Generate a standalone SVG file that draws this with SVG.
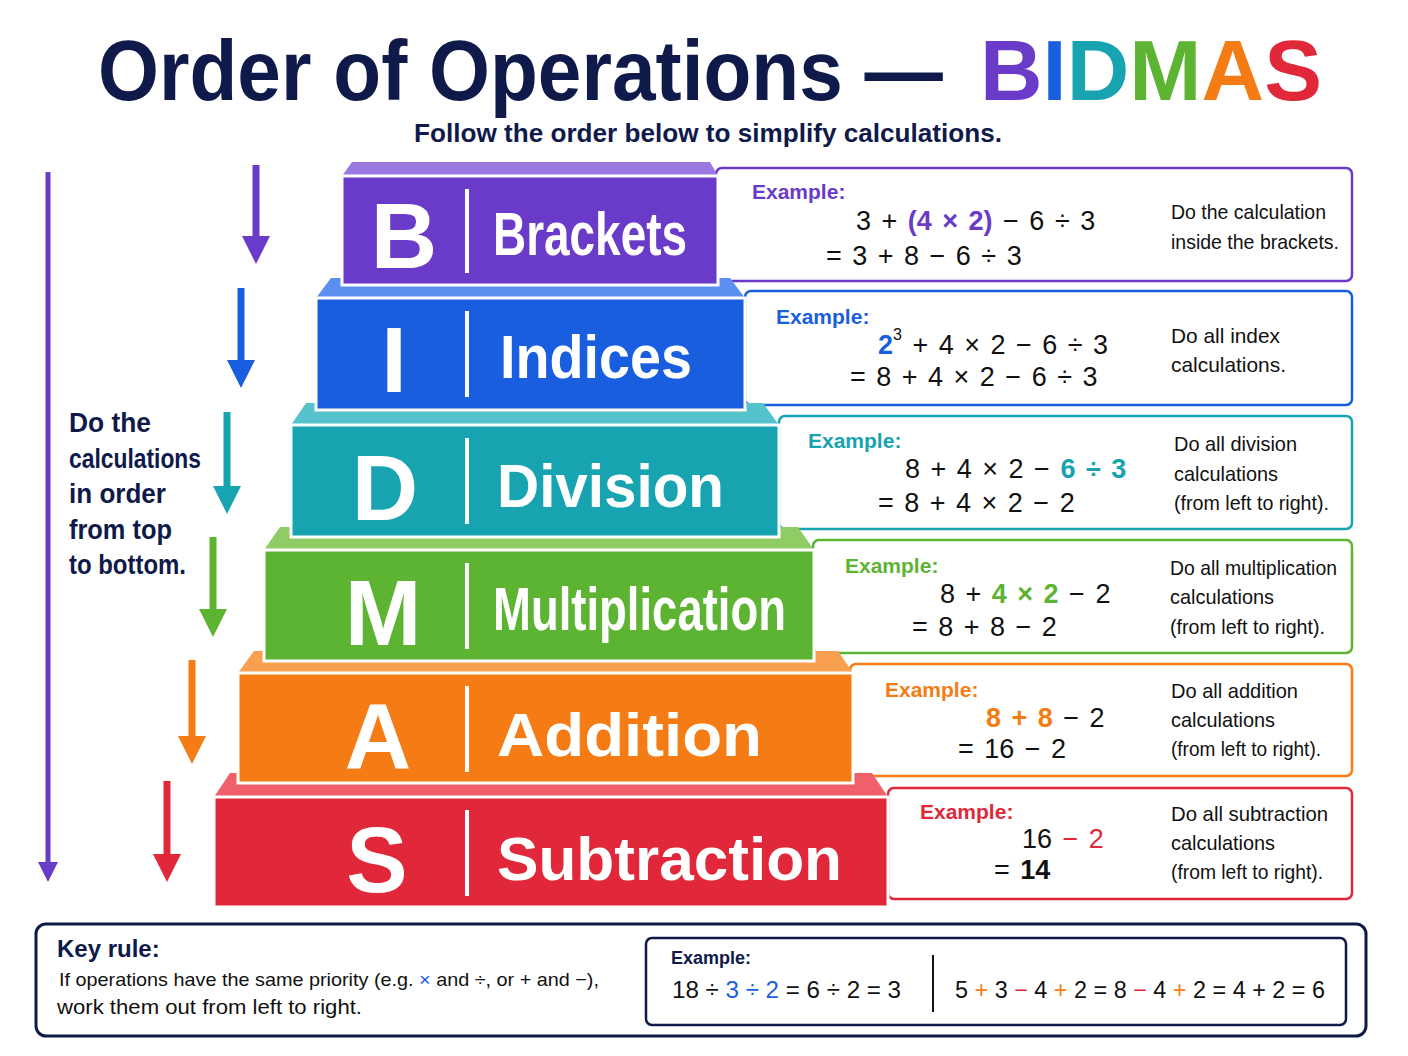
<svg xmlns="http://www.w3.org/2000/svg" width="1408" height="1056" viewBox="0 0 1408 1056">
<style>
text{font-family:"Liberation Sans",Arial,sans-serif}
.let{font-size:92px;font-weight:bold;fill:#fff;text-anchor:middle}
.word{font-size:62px;font-weight:bold;fill:#fff}
.ex{font-size:21px;font-weight:bold}
.m{font-size:27px;fill:#111;word-spacing:3px}
.d{font-size:21px;fill:#111}
.box{fill:#fff;stroke-width:2.5}
.div{stroke:#fff;stroke-width:4}
</style>
<defs>
<marker id="ah" viewBox="0 0 10 10" refX="5" refY="5" markerWidth="4" markerHeight="4" orient="auto"><path d="M0,0L10,5L0,10z" fill="context-stroke"/></marker>
</defs>
<rect width="1408" height="1056" fill="#fff"/>
<text x="98" y="100" font-size="86" font-weight="bold" fill="#0f1a4a" textLength="845" lengthAdjust="spacingAndGlyphs">Order of Operations —</text>
<text x="980" y="100" font-size="86" font-weight="bold" textLength="342" lengthAdjust="spacingAndGlyphs"><tspan fill="#6a3bc8">B</tspan><tspan fill="#1a5ee0">I</tspan><tspan fill="#17a3b0">D</tspan><tspan fill="#5db332">M</tspan><tspan fill="#f57c14">A</tspan><tspan fill="#e0283a">S</tspan></text>
<text x="708" y="142" font-size="25" font-weight="bold" fill="#0f1a4a" text-anchor="middle" textLength="588" lengthAdjust="spacingAndGlyphs">Follow the order below to simplify calculations.</text>

<g id="connectors" stroke-width="7" fill="none">
<line x1="48" y1="172" x2="48" y2="872" stroke="#6a3bc8" stroke-width="5" marker-end="url(#ah)"/>
<line x1="256" y1="165" x2="256" y2="250" stroke="#6a3bc8" marker-end="url(#ah)"/>
<line x1="241" y1="288" x2="241" y2="374" stroke="#1a5ee0" marker-end="url(#ah)"/>
<line x1="227" y1="412" x2="227" y2="500" stroke="#17a3b0" marker-end="url(#ah)"/>
<line x1="213" y1="537" x2="213" y2="623" stroke="#5db332" marker-end="url(#ah)"/>
<line x1="192" y1="660" x2="192" y2="750" stroke="#f57c14" marker-end="url(#ah)"/>
<line x1="167" y1="781" x2="167" y2="868" stroke="#e0283a" marker-end="url(#ah)"/>
</g>
<g font-size="27" font-weight="bold" fill="#0f1a4a">
<text x="69" y="432" textLength="82" lengthAdjust="spacingAndGlyphs">Do the</text>
<text x="69" y="468" textLength="132" lengthAdjust="spacingAndGlyphs">calculations</text>
<text x="69" y="503" textLength="97" lengthAdjust="spacingAndGlyphs">in order</text>
<text x="69" y="539" textLength="103" lengthAdjust="spacingAndGlyphs">from top</text>
<text x="69" y="574" textLength="117" lengthAdjust="spacingAndGlyphs">to bottom.</text>
</g>

<g id="exB"><rect class="box" x="716" y="168" width="636" height="113" rx="6" stroke="#6a3bc8"/>
<text class="ex" x="752" y="199" fill="#6a3bc8">Example:</text>
<text class="m" x="856" y="230">3 + <tspan fill="#6a3bc8" font-weight="bold">(4 × 2)</tspan> − 6 ÷ 3</text>
<text class="m" x="826" y="265">= 3 + 8 − 6 ÷ 3</text>
<text class="d" x="1171" y="219" textLength="155" lengthAdjust="spacingAndGlyphs">Do the calculation</text><text class="d" x="1171" y="249" textLength="168" lengthAdjust="spacingAndGlyphs">inside the brackets.</text></g>

<g id="exI"><rect class="box" x="745" y="291" width="607" height="114" rx="6" stroke="#1a5ee0"/>
<text class="ex" x="776" y="324" fill="#1a5ee0">Example:</text>
<text class="m" x="878" y="354"><tspan fill="#1a5ee0" font-weight="bold">2</tspan><tspan font-size="16" dy="-14">3</tspan><tspan dy="14"> + 4 × 2 − 6 ÷ 3</tspan></text>
<text class="m" x="850" y="386">= 8 + 4 × 2 − 6 ÷ 3</text>
<text class="d" x="1171" y="343" textLength="109" lengthAdjust="spacingAndGlyphs">Do all index</text><text class="d" x="1171" y="372" textLength="115" lengthAdjust="spacingAndGlyphs">calculations.</text></g>

<g id="exD"><rect class="box" x="779" y="416" width="573" height="113" rx="6" stroke="#17a3b0"/>
<text class="ex" x="808" y="448" fill="#17a3b0">Example:</text>
<text class="m" x="905" y="478">8 + 4 × 2 − <tspan fill="#17a3b0" font-weight="bold">6 ÷ 3</tspan></text>
<text class="m" x="878" y="512">= 8 + 4 × 2 − 2</text>
<text class="d" x="1174" y="451" textLength="123" lengthAdjust="spacingAndGlyphs">Do all division</text><text class="d" x="1174" y="481" textLength="104" lengthAdjust="spacingAndGlyphs">calculations</text><text class="d" x="1174" y="510" textLength="155" lengthAdjust="spacingAndGlyphs">(from left to right).</text></g>

<g id="exM"><rect class="box" x="813" y="540" width="539" height="113" rx="6" stroke="#5db332"/>
<text class="ex" x="845" y="573" fill="#5db332">Example:</text>
<text class="m" x="940" y="603">8 + <tspan fill="#5db332" font-weight="bold">4 × 2</tspan> − 2</text>
<text class="m" x="912" y="636">= 8 + 8 − 2</text>
<text class="d" x="1170" y="575" textLength="167" lengthAdjust="spacingAndGlyphs">Do all multiplication</text><text class="d" x="1170" y="604" textLength="104" lengthAdjust="spacingAndGlyphs">calculations</text><text class="d" x="1170" y="634" textLength="155" lengthAdjust="spacingAndGlyphs">(from left to right).</text></g>

<g id="exA"><rect class="box" x="850" y="664" width="502" height="112" rx="6" stroke="#f57c14"/>
<text class="ex" x="885" y="697" fill="#f57c14">Example:</text>
<text class="m" x="986" y="727"><tspan fill="#f57c14" font-weight="bold">8 + 8</tspan> − 2</text>
<text class="m" x="958" y="758">= 16 − 2</text>
<text class="d" x="1171" y="698" textLength="127" lengthAdjust="spacingAndGlyphs">Do all addition</text><text class="d" x="1171" y="727" textLength="104" lengthAdjust="spacingAndGlyphs">calculations</text><text class="d" x="1171" y="756" textLength="150" lengthAdjust="spacingAndGlyphs">(from left to right).</text></g>

<g id="exS"><rect class="box" x="888" y="788" width="464" height="111" rx="6" stroke="#e0283a"/>
<text class="ex" x="920" y="819" fill="#e0283a">Example:</text>
<text class="m" x="1022" y="848">16 <tspan fill="#e0283a">− 2</tspan></text>
<text class="m" x="994" y="879">= <tspan font-weight="bold">14</tspan></text>
<text class="d" x="1171" y="821" textLength="157" lengthAdjust="spacingAndGlyphs">Do all subtraction</text><text class="d" x="1171" y="850" textLength="104" lengthAdjust="spacingAndGlyphs">calculations</text><text class="d" x="1171" y="879" textLength="152" lengthAdjust="spacingAndGlyphs">(from left to right).</text></g>

<g id="S"><polygon points="230,773 872,773 888,797 214,797" fill="#f0606a"/><rect x="214" y="797" width="674" height="110" fill="#e0283a" stroke="#fff" stroke-width="3"/>
<text class="let" x="377" y="892">S</text><line class="div" x1="467" y1="810" x2="467" y2="896"/><text class="word" x="497" y="880" textLength="345" lengthAdjust="spacingAndGlyphs">Subtraction</text></g>
<g id="A"><polygon points="254,651 838,651 853,673 238,673" fill="#f9a050"/><rect x="238" y="673" width="615" height="110" fill="#f57c14" stroke="#fff" stroke-width="3"/>
<text class="let" x="378" y="768">A</text><line class="div" x1="467" y1="686" x2="467" y2="772"/><text class="word" x="497" y="756" textLength="265" lengthAdjust="spacingAndGlyphs">Addition</text></g>
<g id="M"><polygon points="280,527 798,527 814,550 264,550" fill="#8fcc63"/><rect x="264" y="550" width="550" height="111" fill="#5db332" stroke="#fff" stroke-width="3"/>
<text class="let" x="383" y="645">M</text><line class="div" x1="467" y1="563" x2="467" y2="649"/><text class="word" x="493" y="630" textLength="293" lengthAdjust="spacingAndGlyphs">Multiplication</text></g>
<g id="D"><polygon points="306,403 763,403 779,425 291,425" fill="#55c3cc"/><rect x="291" y="425" width="488" height="112" fill="#17a3b0" stroke="#fff" stroke-width="3"/>
<text class="let" x="385" y="520">D</text><line class="div" x1="467" y1="438" x2="467" y2="524"/><text class="word" x="497" y="507" textLength="227" lengthAdjust="spacingAndGlyphs">Division</text></g>
<g id="I"><polygon points="331,278 730,278 745,298 316,298" fill="#5c8ff0"/><rect x="316" y="298" width="429" height="112" fill="#1a5ee0" stroke="#fff" stroke-width="3"/>
<text class="let" x="394" y="392">I</text><line class="div" x1="467" y1="311" x2="467" y2="397"/><text class="word" x="500" y="378" textLength="192" lengthAdjust="spacingAndGlyphs">Indices</text></g>
<g id="B"><polygon points="352,162 710,162 718,176 342,176" fill="#9b78e0"/><rect x="342" y="176" width="376" height="109" fill="#6a3bc8" stroke="#fff" stroke-width="3"/>
<text class="let" x="404" y="268">B</text><line class="div" x1="467" y1="189" x2="467" y2="273"/><text class="word" x="493" y="255" textLength="194" lengthAdjust="spacingAndGlyphs">Brackets</text></g>

<g id="key"><rect x="36" y="924" width="1330" height="112" rx="10" fill="#fff" stroke="#0f1a4a" stroke-width="3"/>
<text x="57" y="957" font-size="24" font-weight="bold" fill="#0f1a4a">Key rule:</text>
<text x="59" y="986" font-size="19" fill="#111" textLength="540" lengthAdjust="spacingAndGlyphs">If operations have the same priority (e.g. <tspan fill="#1a5ee0">×</tspan> and ÷, or + and −),</text>
<text x="57" y="1014" font-size="21" fill="#111" textLength="305" lengthAdjust="spacingAndGlyphs">work them out from left to right.</text>
<rect x="646" y="938" width="700" height="87" rx="6" fill="#fff" stroke="#0f1a4a" stroke-width="2.5"/>
<text x="671" y="964" font-size="18" font-weight="bold" fill="#0f1a4a">Example:</text>
<text x="672" y="998" font-size="23" fill="#111" textLength="229" lengthAdjust="spacingAndGlyphs">18 ÷ <tspan fill="#1a5ee0">3 ÷ 2</tspan> = 6 ÷ 2 = 3</text>
<line x1="933" y1="955" x2="933" y2="1012" stroke="#111" stroke-width="2"/>
<text x="955" y="998" font-size="23" fill="#111" textLength="370" lengthAdjust="spacingAndGlyphs">5 <tspan fill="#f57c14">+</tspan> 3 <tspan fill="#e0283a">−</tspan> 4 <tspan fill="#f57c14">+</tspan> 2 = 8 <tspan fill="#e0283a">−</tspan> 4 <tspan fill="#f57c14">+</tspan> 2 = 4 + 2 = 6</text></g>
</svg>
